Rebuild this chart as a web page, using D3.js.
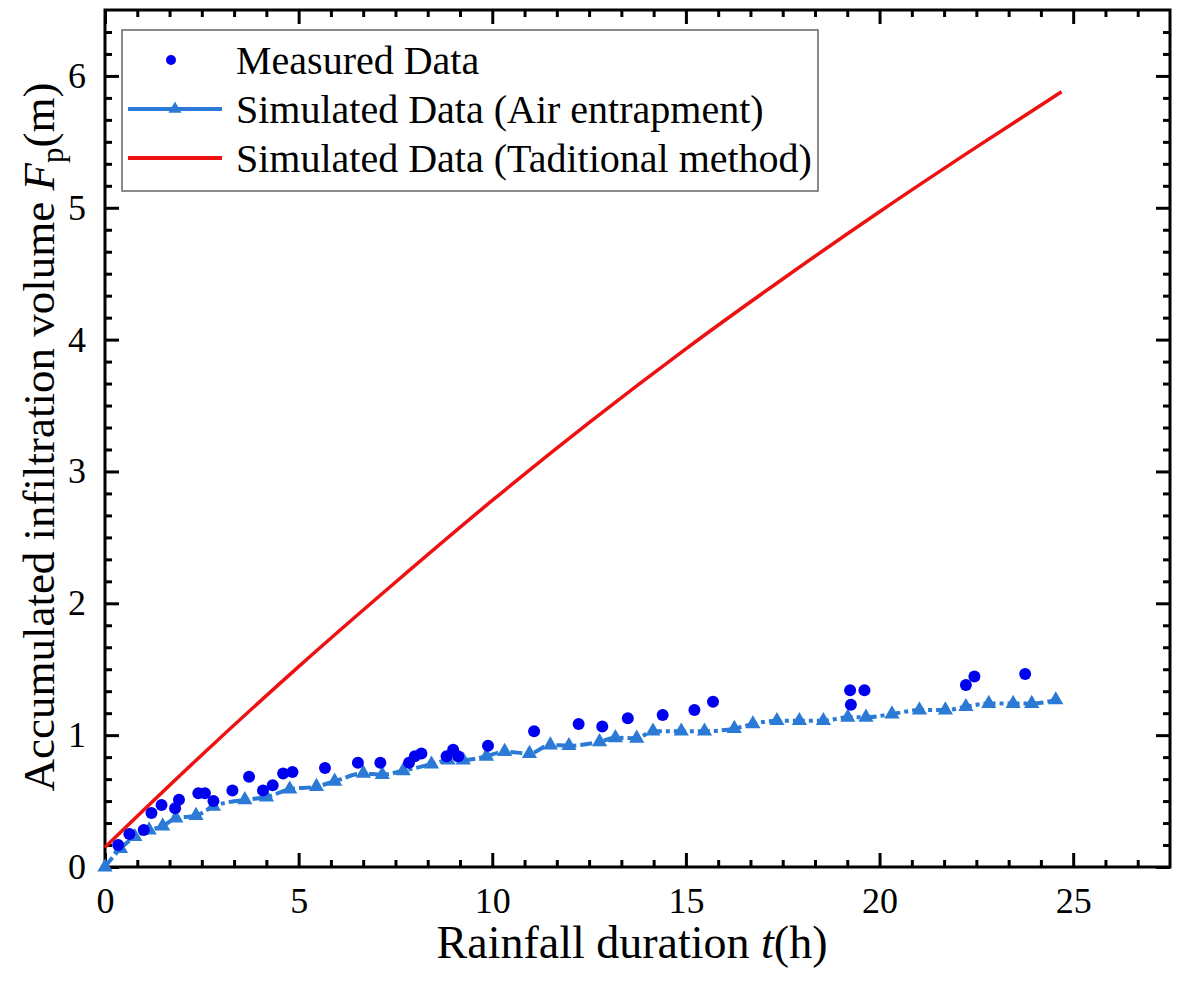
<!DOCTYPE html>
<html>
<head>
<meta charset="utf-8">
<script src="https://cdn.jsdelivr.net/npm/d3@7"></script>
<style>
  html, body { margin: 0; padding: 0; background: #fff; }
  svg { display: block; font-family: "Liberation Serif", "Times New Roman", serif; }
</style>
</head>
<body>
<svg id="chart" width="1180" height="999"></svg>
<script>
// ---- data ----
const measuredT = [0.34,0.63,1.0,1.2,1.46,1.81,1.91,2.41,2.58,2.8,3.29,3.72,4.08,4.33,4.6,4.84,5.68,6.53,7.11,7.85,8.0,8.17,8.82,8.99,9.12,9.89,11.08,12.23,12.84,13.5,14.4,15.22,15.7,19.24,19.61,19.26,22.23,22.45,23.76];
const measuredF = [0.167,0.25,0.28,0.41,0.47,0.445,0.51,0.56,0.56,0.50,0.58,0.685,0.58,0.62,0.71,0.72,0.75,0.79,0.79,0.79,0.84,0.86,0.84,0.89,0.84,0.92,1.03,1.085,1.065,1.128,1.153,1.19,1.254,1.34,1.34,1.23,1.38,1.444,1.464];

const airT = [0.0,0.4,0.77,1.14,1.49,1.83,2.35,2.8,3.61,4.17,4.77,5.46,5.93,6.67,7.16,7.7,8.43,8.86,9.25,9.85,10.32,10.96,11.5,11.98,12.77,13.18,13.73,14.15,14.88,15.48,16.25,16.73,17.35,17.93,18.55,19.18,19.65,20.32,21.03,21.7,22.23,22.82,23.45,23.93,24.55];
const airF = [0.0,0.14,0.23,0.28,0.31,0.37,0.39,0.46,0.51,0.53,0.59,0.61,0.65,0.71,0.70,0.73,0.78,0.81,0.81,0.84,0.875,0.86,0.925,0.92,0.95,0.98,0.976,1.03,1.03,1.03,1.05,1.085,1.11,1.11,1.11,1.135,1.135,1.16,1.19,1.19,1.216,1.24,1.24,1.24,1.267];

const tradT = [0,2.5,5,7.5,10,12.5,15,17.5,20,22.5,24.7];
const tradF = [0.15,0.85,1.52,2.16,2.78,3.37,3.93,4.46,4.97,5.46,5.88];

const xMajor = [0,5,10,15,20,25];
const yMajor = [0,1,2,3,4,5,6];
const legendLabels = ["Measured Data","Simulated Data (Air entrapment)","Simulated Data (Taditional method)"];

// ---- layout ----
const L = 105, R = 1170, T = 10, B = 867;
const svg = d3.select("#chart");
const x = d3.scaleLinear().domain([0, 27.5]).range([L, R]);
const y = d3.scaleLinear().domain([0, 6.5]).range([B, T]);

const colMeasured = "#0000f0", colAir = "#2a7ad6", colTrad = "#ee1111";

// minor ticks
const xMinor = d3.range(0, 27.5 + 1e-9, 5/6).filter(v => xMajor.every(m => Math.abs(m - v) > 1e-6) && v < 27.49);
const yMinor = d3.range(0, 6.5 + 1e-9, 1/6).filter(v => yMajor.every(m => Math.abs(m - v) > 1e-6) && v < 6.49);

function styleAxis(g) {
  g.select(".domain").remove();
  g.selectAll(".tick line").attr("stroke", "#000").attr("stroke-width", 3);
}

// bottom axis (inward ticks)
const gxB = svg.append("g").attr("transform", `translate(0,${B})`)
  .call(d3.axisBottom(x).tickValues(xMajor).tickSize(-14).tickPadding(20).tickFormat(d3.format("d")));
styleAxis(gxB);
gxB.selectAll(".tick text").attr("font-size", 36).attr("fill", "#000").attr("font-family", "Liberation Serif");
svg.append("g").attr("transform", `translate(0,${B})`)
  .call(d3.axisBottom(x).tickValues(xMinor).tickSize(-7).tickFormat(""))
  .call(styleAxis);
// top axis
svg.append("g").attr("transform", `translate(0,${T})`)
  .call(d3.axisTop(x).tickValues(xMajor).tickSize(-14).tickFormat(""))
  .call(styleAxis);
svg.append("g").attr("transform", `translate(0,${T})`)
  .call(d3.axisTop(x).tickValues(xMinor).tickSize(-7).tickFormat(""))
  .call(styleAxis);
// left axis
const gyL = svg.append("g").attr("transform", `translate(${L},0)`)
  .call(d3.axisLeft(y).tickValues(yMajor).tickSize(-14).tickPadding(19).tickFormat(d3.format("d")));
styleAxis(gyL);
gyL.selectAll(".tick text").attr("font-size", 36).attr("fill", "#000").attr("font-family", "Liberation Serif");
svg.append("g").attr("transform", `translate(${L},0)`)
  .call(d3.axisLeft(y).tickValues(yMinor).tickSize(-7).tickFormat(""))
  .call(styleAxis);
// right axis
svg.append("g").attr("transform", `translate(${R},0)`)
  .call(d3.axisRight(y).tickValues(yMajor).tickSize(-14).tickFormat(""))
  .call(styleAxis);
svg.append("g").attr("transform", `translate(${R},0)`)
  .call(d3.axisRight(y).tickValues(yMinor).tickSize(-7).tickFormat(""))
  .call(styleAxis);

// frame
svg.append("rect").attr("x", L).attr("y", T).attr("width", R - L).attr("height", B - T)
  .attr("fill", "none").attr("stroke", "#000").attr("stroke-width", 3);

// ---- series ----
const tradData = tradT.map((t, i) => [t, tradF[i]]);
const airData = airT.map((t, i) => [t, airF[i]]);
const measData = measuredT.map((t, i) => [t, measuredF[i]]);

svg.append("path").datum(tradData)
  .attr("d", d3.line().x(d => x(d[0])).y(d => y(d[1])).curve(d3.curveMonotoneX))
  .attr("fill", "none").attr("stroke", colTrad).attr("stroke-width", 3.5);

svg.append("path").datum(airData)
  .attr("d", d3.line().x(d => x(d[0])).y(d => y(d[1])).curve(d3.curveMonotoneX))
  .attr("fill", "none").attr("stroke", colAir).attr("stroke-width", 4)
  .attr("stroke-dasharray", "12,4,4,4");

const tri = d3.symbol().type(d3.symbolTriangle).size(100);
svg.append("g").selectAll("path").data(airData).join("path")
  .attr("d", tri).attr("transform", d => `translate(${x(d[0])},${y(d[1])})`)
  .attr("fill", colAir);

svg.append("g").selectAll("circle").data(measData).join("circle")
  .attr("cx", d => x(d[0])).attr("cy", d => y(d[1])).attr("r", 6)
  .attr("fill", colMeasured);

// ---- legend ----
const lg = svg.append("g");
lg.append("rect").attr("x", 122).attr("y", 30).attr("width", 696).attr("height", 161)
  .attr("fill", "#fff").attr("stroke", "#666").attr("stroke-width", 1.5);
const rows = [60, 109, 158];
lg.append("circle").attr("cx", 171).attr("cy", rows[0]).attr("r", 5).attr("fill", colMeasured);
lg.append("line").attr("x1", 128).attr("x2", 222).attr("y1", rows[1]).attr("y2", rows[1])
  .attr("stroke", colAir).attr("stroke-width", 4);
lg.append("path").attr("d", d3.symbol().type(d3.symbolTriangle).size(75)).attr("transform", `translate(175,${rows[1]})`).attr("fill", colAir);
lg.append("line").attr("x1", 128).attr("x2", 222).attr("y1", rows[2]).attr("y2", rows[2])
  .attr("stroke", colTrad).attr("stroke-width", 4);
lg.selectAll("text.lab").data(legendLabels).join("text").attr("class", "lab")
  .attr("x", 236).attr("y", (d, i) => rows[i] + 14)
  .attr("font-size", 40).attr("fill", "#000").text(d => d);

// ---- axis titles ----
const xt = svg.append("text").attr("x", 632).attr("y", 958).attr("text-anchor", "middle")
  .attr("font-size", 46).attr("fill", "#000");
xt.append("tspan").text("Rainfall duration ");
xt.append("tspan").attr("font-style", "italic").text("t");
xt.append("tspan").text("(h)");

const yt = svg.append("text").attr("transform", `translate(54,437) rotate(-90)`)
  .attr("text-anchor", "middle").attr("font-size", 45).attr("fill", "#000");
yt.append("tspan").text("Accumulated infiltration volume ");
yt.append("tspan").attr("font-style", "italic").text("F");
yt.append("tspan").attr("font-size", 31).attr("dy", 9).text("p");
yt.append("tspan").attr("dy", -9).text("(m)");
</script>
</body>
</html>
